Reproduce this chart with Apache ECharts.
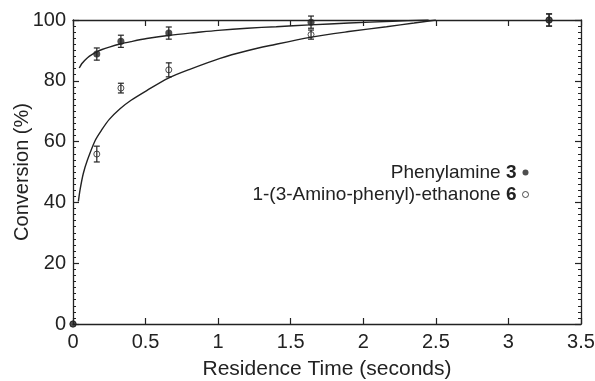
<!DOCTYPE html>
<html>
<head>
<meta charset="utf-8">
<script src="https://cdn.jsdelivr.net/npm/echarts@6/dist/echarts.min.js"></script>
<style>html,body{margin:0;padding:0;background:#fff}#c{width:595px;height:381px}</style>
</head>
<body>
<div id="c"></div>
<script>
// Measured data (residence time in seconds, conversion in %)
var times = [0, 0.164, 0.33, 0.66, 1.64, 3.28];
var phenyl = [0, 88.8, 93.0, 95.7, 99.3, 100];
var phenylErr = [0, 2.0, 2.0, 2.0, 2.0, 2.0];
var ethanone = [0, 55.9, 77.6, 83.6, 95.2, 100];
var ethanoneErr = [0, 2.6, 1.6, 2.3, 1.5, 2.0];

// Fitted curves
var fitPhenylX = [0.043, 0.06, 0.08, 0.10, 0.13, 0.163, 0.2, 0.25, 0.324, 0.4, 0.508, 0.668, 0.85, 1.0, 1.2, 1.4, 1.633, 1.9, 2.2, 2.45];
var fitPhenylY = [84.2, 85.6, 86.7, 87.6, 88.6, 89.5, 90.3, 91.1, 92.1, 92.9, 93.9, 95.0, 95.9, 96.6, 97.3, 97.8, 98.4, 99.0, 99.6, 100];
var fitEthX = [0.037, 0.05, 0.071, 0.1, 0.152, 0.2, 0.25, 0.324, 0.4, 0.508, 0.657, 0.8, 1.013, 1.2, 1.358, 1.633, 1.9, 2.16, 2.35, 2.5];
var fitEthY = [40.3, 44.5, 49.5, 54.0, 60.3, 64.0, 67.3, 70.8, 73.6, 76.8, 80.9, 83.7, 87.4, 89.9, 91.6, 94.3, 96.2, 97.8, 99.0, 100];

var xTicks = [0, 0.5, 1, 1.5, 2, 2.5, 3, 3.5];
var yTicks = [0, 20, 40, 60, 80, 100];

var nameA = 'Phenylamine';
var nameB = '1-(3-Amino-phenyl)-ethanone';
var legendNum = {};
legendNum[nameA] = '3';
legendNum[nameB] = '6';

function zip(a, b) { return a.map(function (v, i) { return [v, b[i]]; }); }
function zip3(a, b, c) { return a.map(function (v, i) { return [v, b[i], c[i]]; }); }

var INK = '#222';
var FONT = 'Liberation Sans';

function errRender(params, api) {
  var x = api.value(0), y = api.value(1), e = api.value(2);
  if (!e) return null;
  var top = api.coord([x, y + e]);
  var bot = api.coord([x, y - e]);
  var w = 3;
  var st = { stroke: INK, lineWidth: 1.2 };
  return {
    type: 'group',
    children: [
      { type: 'line', shape: { x1: top[0], y1: top[1], x2: bot[0], y2: bot[1] }, style: st },
      { type: 'line', shape: { x1: top[0] - w, y1: top[1], x2: top[0] + w, y2: top[1] }, style: st },
      { type: 'line', shape: { x1: bot[0] - w, y1: bot[1], x2: bot[0] + w, y2: bot[1] }, style: st }
    ]
  };
}

var chart = echarts.init(document.getElementById('c'), null, { renderer: 'canvas' });
var axisCommon = {
  axisLine: { show: true, onZero: false, lineStyle: { color: INK, width: 1.3 } },
  axisTick: { show: true, inside: true, length: 6, lineStyle: { color: INK, width: 1.2 } },
  splitLine: { show: false }
};
chart.setOption({
  animation: false,
  backgroundColor: '#fff',
  textStyle: { fontFamily: FONT, color: INK },
  grid: { left: 73, right: 14, top: 20, bottom: 57, containLabel: false, outerBoundsMode: 'none' },
  legend: {
    orient: 'vertical',
    right: 61,
    top: 158,
    align: 'right',
    itemGap: 3,
    itemWidth: 6,
    itemHeight: 6,
    selectedMode: false,
    data: [
      { name: nameA, icon: 'circle', itemStyle: { color: INK, borderWidth: 0 } },
      { name: nameB, icon: 'circle', itemStyle: { color: '#fff', borderColor: INK, borderWidth: 1 } }
    ],
    formatter: function (n) { return n + ' {b|' + legendNum[n] + '}'; },
    textStyle: {
      fontFamily: FONT, fontSize: 19, color: INK, lineHeight: 19, padding: [0, 1, 0, 0],
      rich: { b: { fontFamily: FONT, fontSize: 19, fontWeight: 'bold', color: INK, lineHeight: 19 } }
    }
  },
  xAxis: [
    Object.assign({}, axisCommon, {
      type: 'value', position: 'bottom', min: 0, max: 3.5, interval: 0.5,
      name: 'Residence Time (seconds)', nameLocation: 'middle', nameGap: 35, nameMoveOverlap: false,
      nameTextStyle: { fontFamily: FONT, fontSize: 21, color: INK },
      axisLabel: { margin: 8, fontFamily: FONT, fontSize: 20, color: INK,
        formatter: function (v) { return xTicks.indexOf(v) >= 0 ? String(v) : ''; } }
    }),
    Object.assign({}, axisCommon, {
      type: 'value', position: 'top', min: 0, max: 3.5, interval: 0.5,
      axisLabel: { show: false }
    })
  ],
  yAxis: [
    Object.assign({}, axisCommon, {
      type: 'value', position: 'left', min: 0, max: 100, interval: 20,
      minorTick: { show: true, splitNumber: 10, length: 3, lineStyle: { color: INK, width: 1 } },
      name: 'Conversion (%)', nameLocation: 'middle', nameGap: 41, nameMoveOverlap: false,
      nameTextStyle: { fontFamily: FONT, fontSize: 20, color: INK },
      axisLabel: { margin: 7, fontFamily: FONT, fontSize: 20, color: INK,
        formatter: function (v) { return yTicks.indexOf(v) >= 0 ? String(v) : ''; } }
    }),
    Object.assign({}, axisCommon, {
      type: 'value', position: 'right', min: 0, max: 100, interval: 20,
      minorTick: { show: true, splitNumber: 10, length: 3, lineStyle: { color: INK, width: 1 } },
      axisLabel: { show: false }
    })
  ],
  series: [
    {
      type: 'line', name: 'fitA', data: zip(fitPhenylX, fitPhenylY), smooth: 0.3,
      showSymbol: false, symbol: 'none', lineStyle: { color: INK, width: 1.4 }, silent: true, z: 2
    },
    {
      type: 'line', name: 'fitB', data: zip(fitEthX, fitEthY), smooth: 0.3,
      showSymbol: false, symbol: 'none', lineStyle: { color: INK, width: 1.4 }, silent: true, z: 2
    },
    {
      type: 'custom', name: 'errB', data: zip3(times, ethanone, ethanoneErr), renderItem: errRender,
      clip: false, z: 3
    },
    {
      type: 'custom', name: 'errA', data: zip3(times, phenyl, phenylErr), renderItem: errRender,
      clip: false, z: 3
    },
    {
      type: 'scatter', name: nameB, data: zip(times, ethanone), symbol: 'circle', symbolSize: 6,
      itemStyle: { color: 'rgba(255,255,255,0)', borderColor: INK, borderWidth: 1 }, clip: false, z: 4
    },
    {
      type: 'scatter', name: nameA, data: zip(times, phenyl), symbol: 'circle', symbolSize: 7,
      itemStyle: { color: INK }, clip: false, z: 5
    }
  ]
});
</script>
</body>
</html>
